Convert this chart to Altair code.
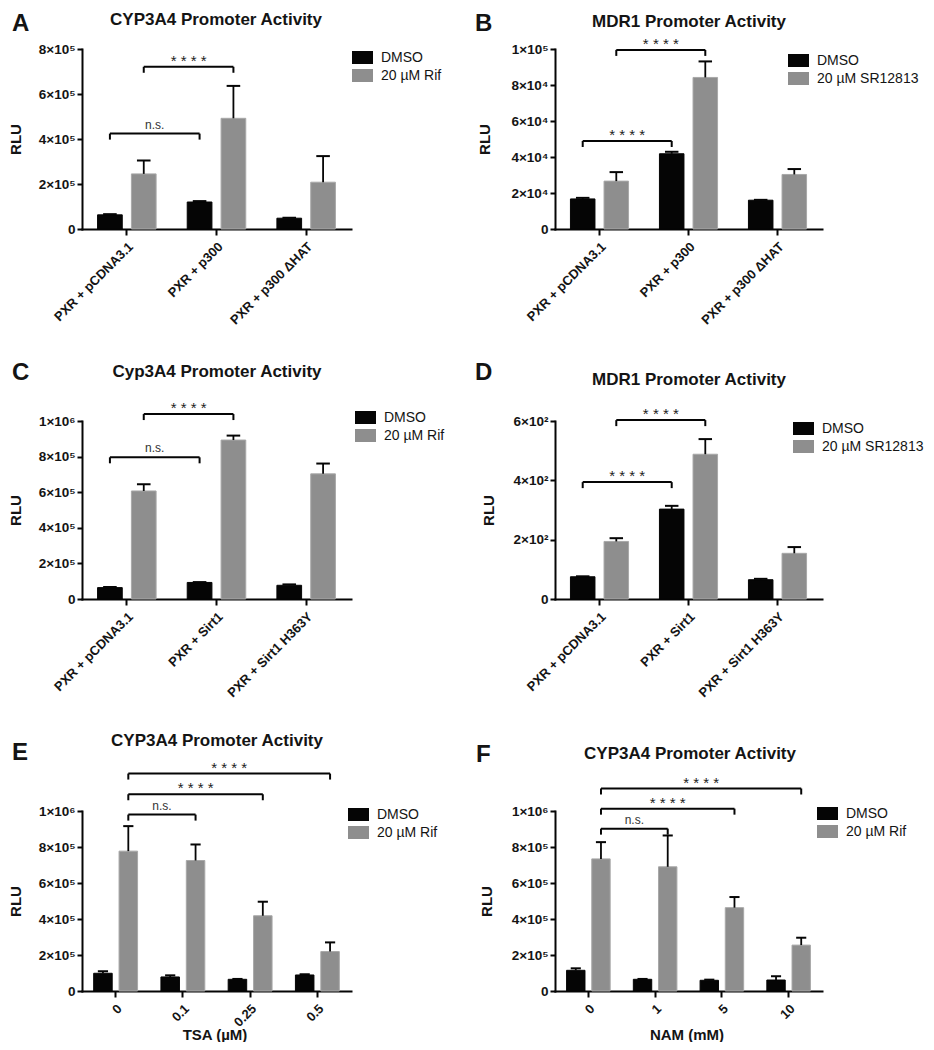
import altair as alt
import pandas as pd

FONT = "Liberation Sans"
INK = "#141414"
BLACK = "#050505"
GRAY = "#8e8e8e"
GRAY_EDGE = "#a8a8a8"

# ---------------- data ----------------
A_title = "CYP3A4 Promoter Activity"
A_cats = ["PXR + pCDNA3.1", "PXR + p300", "PXR + p300 ΔHAT"]
A_treat = "20 µM Rif"
A_dmso = [6.3e4, 1.2e5, 4.8e4]
A_dmso_sem = [3e3, 4e3, 2e3]
A_drug = [2.45e5, 4.92e5, 2.08e5]
A_drug_sem = [6.0e4, 1.44e5, 1.16e5]
A_yticks = [0, 2e5, 4e5, 6e5, 8e5]
A_brackets = [("PXR + pCDNA3.1", "PXR + p300", "DMSO", 4.24e5, "n.s."),
              ("PXR + pCDNA3.1", "PXR + p300", "20 µM Rif", 7.21e5, "* * * *")]

B_title = "MDR1 Promoter Activity"
B_cats = ["PXR + pCDNA3.1", "PXR + p300", "PXR + p300 ΔHAT"]
B_treat = "20 µM SR12813"
B_dmso = [1.67e4, 4.18e4, 1.60e4]
B_dmso_sem = [600, 1100, 200]
B_drug = [2.66e4, 8.42e4, 3.03e4]
B_drug_sem = [5000, 8900, 3000]
B_yticks = [0, 2e4, 4e4, 6e4, 8e4, 1e5]
B_brackets = [("PXR + pCDNA3.1", "PXR + p300", "DMSO", 4.89e4, "* * * *"),
              ("PXR + pCDNA3.1", "PXR + p300", "20 µM SR12813", 9.95e4, "* * * *")]

C_title = "Cyp3A4 Promoter Activity"
C_cats = ["PXR + pCDNA3.1", "PXR + Sirt1", "PXR + Sirt1 H363Y"]
C_treat = "20 µM Rif"
C_dmso = [6.4e4, 9.3e4, 7.7e4]
C_dmso_sem = [3500, 2000, 5000]
C_drug = [6.07e5, 8.93e5, 7.03e5]
C_drug_sem = [3.8e4, 2.5e4, 5.8e4]
C_yticks = [0, 2e5, 4e5, 6e5, 8e5, 1e6]
C_brackets = [("PXR + pCDNA3.1", "PXR + Sirt1", "DMSO", 7.96e5, "n.s."),
              ("PXR + pCDNA3.1", "PXR + Sirt1", "20 µM Rif", 1.039e6, "* * * *")]

D_title = "MDR1 Promoter Activity"
D_cats = ["PXR + pCDNA3.1", "PXR + Sirt1", "PXR + Sirt1 H363Y"]
D_treat = "20 µM SR12813"
D_dmso = [75, 303, 65]
D_dmso_sem = [1.5, 11, 3]
D_drug = [194, 488, 154]
D_drug_sem = [11, 51, 21]
D_yticks = [0, 200, 400, 600]
D_brackets = [("PXR + pCDNA3.1", "PXR + Sirt1", "DMSO", 394, "* * * *"),
              ("PXR + pCDNA3.1", "PXR + Sirt1", "20 µM SR12813", 603, "* * * *")]

E_title = "CYP3A4 Promoter Activity"
E_cats = ["0", "0.1", "0.25", "0.5"]
E_xtitle = "TSA (µM)"
E_treat = "20 µM Rif"
E_dmso = [9.85e4, 7.8e4, 6.5e4, 8.9e4]
E_dmso_sem = [1.15e4, 9e3, 2e3, 4e3]
E_drug = [7.77e5, 7.25e5, 4.18e5, 2.19e5]
E_drug_sem = [1.39e5, 8.9e4, 7.8e4, 5.1e4]
E_yticks = [0, 2e5, 4e5, 6e5, 8e5, 1e6]
E_brackets = [("0", "0.1", "20 µM Rif", 9.8e5, "n.s."),
              ("0", "0.25", "20 µM Rif", 1.093e6, "* * * *"),
              ("0", "0.5", "20 µM Rif", 1.208e6, "* * * *")]

F_title = "CYP3A4 Promoter Activity"
F_cats = ["0", "1", "5", "10"]
F_xtitle = "NAM (mM)"
F_treat = "20 µM Rif"
F_dmso = [1.15e5, 6.5e4, 5.95e4, 6.1e4]
F_dmso_sem = [1.1e4, 2e3, 3.5e3, 2.1e4]
F_drug = [7.34e5, 6.9e5, 4.63e5, 2.55e5]
F_drug_sem = [9.3e4, 1.74e5, 5.9e4, 4.1e4]
F_yticks = [0, 2e5, 4e5, 6e5, 8e5, 1e6]
F_brackets = [("0", "1", "20 µM Rif", 9.02e5, "n.s."),
              ("0", "5", "20 µM Rif", 1.013e6, "* * * *"),
              ("0", "10", "20 µM Rif", 1.125e6, "* * * *")]

# ---------------- layout (pixels, relative to each plot area's top-left) ----------------
# letter / title give the top edge of the text
LAYOUT = {
    "A": dict(w=269, h=180, top=0, letter=(-70, -37), title=(134, -37), rlu=-67, legend=(270, -2)),
    "B": dict(w=267, h=180, top=0, letter=(-80, -37), title=(134, -35), rlu=-71, legend=(233, 1)),
    "C": dict(w=269, h=178, top=0, letter=(-70, -60), title=(135, -57), rlu=-67, legend=(273, -14)),
    "D": dict(w=267, h=178, top=0, letter=(-80, -60), title=(134, -49), rlu=-67, legend=(238, -3)),
    "E": dict(w=269, h=200, top=20, letter=(-70, -70), title=(135, -78), rlu=-67, legend=(266, -7)),
    "F": dict(w=267, h=200, top=20, letter=(-79, -68), title=(135, -65), rlu=-69, legend=(262, -8)),
}

LABEL_EXPR = (
    "datum.value == 0 ? '0' : "
    "format(datum.value / pow(10, floor(log(datum.value) / LN10 + 1e-6)), '.0f') + '×10' + "
    "substring('⁰¹²³⁴⁵⁶⁷⁸⁹', floor(log(datum.value) / LN10 + 1e-6), floor(log(datum.value) / LN10 + 1e-6) + 1)"
)
SYMBOL = "M-1,-0.62H1V0.62H-1Z"
PI, PO = 0.27, 0.46


def panel(letter, title, cats, dmso, dmso_sem, drug, drug_sem, treat, yticks, brackets, xtitle, L):
    series = ["DMSO", treat]
    rows = []
    for c, m, s in zip(cats, dmso, dmso_sem):
        rows.append({"cat": c, "series": "DMSO", "v": m, "hi": m + s})
    for c, m, s in zip(cats, drug, drug_sem):
        rows.append({"cat": c, "series": treat, "v": m, "hi": m + s})
    df = pd.DataFrame(rows)

    W, H, top = L["w"], L["h"], L["top"]
    plot_h = H - top
    step = W / len(cats)
    sub = step / (2 - PI + 2 * PO)
    bw = sub * (1 - PI)

    x_axis = alt.Axis(
        title=xtitle if xtitle else None,
        labelAngle=-45, labelAlign="right", labelBaseline="top", labelPadding=5,
        labelFont=FONT, labelFontSize=13, labelFontWeight="bold", labelColor=INK,
        labelOverlap=False,
        tickSize=6, tickWidth=2, tickColor=BLACK, domainColor=BLACK, domainWidth=2,
        domainCap="square",
        titleFont=FONT, titleFontSize=15, titleFontWeight="bold", titleColor=INK,
        titleX=W / 2 - 2, titleY=43, titleBaseline="middle", titleAlign="center",
    )
    y_axis = alt.Axis(
        values=[float(v) for v in yticks],
        labelExpr=LABEL_EXPR, title="RLU",
        labelOverlap=False,
        titleFont=FONT, titleFontSize=15, titleFontWeight="bold", titleColor=INK,
        titleAngle=270, titleAlign="center", titleBaseline="middle",
        titleX=L["rlu"], titleY=top + plot_h / 2,
        labelFont=FONT, labelFontSize=13.5, labelFontWeight="bold", labelColor=INK,
        labelPadding=2, tickSize=5, tickWidth=2, tickColor=BLACK,
        domainColor=BLACK, domainWidth=2, domainCap="square", grid=False,
    )

    yscale = alt.Scale(domain=[0, yticks[-1]], range=[H, top], nice=False, zero=True)
    xs = alt.X("cat:N", sort=cats, scale=alt.Scale(paddingInner=0, paddingOuter=0), axis=x_axis)
    xp = alt.X("cat:N", sort=cats, axis=x_axis)
    xo = alt.XOffset("series:N", sort=series,
                     scale=alt.Scale(domain=series, paddingInner=PI, paddingOuter=PO))
    xo2 = alt.XOffset("series:N", sort=series)
    ys = alt.Y("v:Q", scale=yscale, axis=y_axis)
    yp = alt.Y("v:Q", axis=y_axis)
    yhi = alt.Y("hi:Q", axis=y_axis)

    color = alt.Color(
        "series:N", sort=series, scale=alt.Scale(domain=series, range=[BLACK, GRAY]),
        legend=alt.Legend(
            title=None, orient="none", legendX=L["legend"][0], legendY=top + L["legend"][1],
            symbolType=SYMBOL, symbolSize=441, symbolStrokeWidth=0, symbolOpacity=1,
            labelFont=FONT, labelFontSize=14, labelColor=INK, labelOffset=8,
            rowPadding=0, padding=0,
        ),
    )
    stroke = alt.Stroke("series:N", sort=series,
                        scale=alt.Scale(domain=series, range=[BLACK, GRAY_EDGE]), legend=None)

    bars = alt.Chart(df).mark_bar(strokeWidth=1).encode(
        x=xs, xOffset=xo, y=ys, color=color, stroke=stroke)
    err = alt.Chart(df).mark_rule(color=BLACK, strokeWidth=1.8).encode(
        x=xp, xOffset=xo2, y=yp, y2="hi:Q")
    cap = alt.Chart(df).mark_tick(color=BLACK, thickness=2, size=bw * 0.55,
                                  orient="horizontal", opacity=1).encode(
        x=xp, xOffset=xo2, y=yhi)

    layers = [bars, err, cap]
    for (c1, c2, s, yv, lab) in brackets:
        bdf = pd.DataFrame({"cat": [c1, c2], "series": [s, s], "v": [yv, yv]})
        line = alt.Chart(bdf).mark_line(color=BLACK, strokeWidth=2).encode(
            x=xp, xOffset=xo2, y=yp)
        ends = alt.Chart(bdf).mark_tick(color=BLACK, thickness=2, size=6, orient="vertical",
                                        yOffset=3, opacity=1).encode(x=xp, xOffset=xo2, y=yp)
        span = cats.index(c2) - cats.index(c1)
        is_ns = lab == "n.s."
        txt = alt.Chart(bdf.iloc[[0]]).mark_text(
            text=lab, dx=span * step / 2, dy=-5 if is_ns else -1,
            font=FONT, fontSize=12 if is_ns else 15, color="#222222" if not is_ns else "#333333",
            baseline="alphabetic", align="center",
        ).encode(x=xp, xOffset=xo2, y=yp)
        layers += [line, ends, txt]

    meta_letter = pd.DataFrame({"t": [letter]})
    meta_title = pd.DataFrame({"t": [title]})
    let_mark = alt.Chart(meta_letter).mark_text(
        font=FONT, fontSize=24, fontWeight="bold", align="left", baseline="top", color=INK
    ).encode(text="t:N", x=alt.value(L["letter"][0]), y=alt.value(top + L["letter"][1]))
    tit_mark = alt.Chart(meta_title).mark_text(
        font=FONT, fontSize=17, fontWeight="bold", align="center", baseline="top", color=INK
    ).encode(text="t:N", x=alt.value(L["title"][0]), y=alt.value(top + L["title"][1]))
    layers += [let_mark, tit_mark]

    return alt.layer(*layers).properties(width=W, height=H)


pA = panel("A", A_title, A_cats, A_dmso, A_dmso_sem, A_drug, A_drug_sem, A_treat, A_yticks,
           A_brackets, None, LAYOUT["A"])
pB = panel("B", B_title, B_cats, B_dmso, B_dmso_sem, B_drug, B_drug_sem, B_treat, B_yticks,
           B_brackets, None, LAYOUT["B"])
pC = panel("C", C_title, C_cats, C_dmso, C_dmso_sem, C_drug, C_drug_sem, C_treat, C_yticks,
           C_brackets, None, LAYOUT["C"])
pD = panel("D", D_title, D_cats, D_dmso, D_dmso_sem, D_drug, D_drug_sem, D_treat, D_yticks,
           D_brackets, None, LAYOUT["D"])
pE = panel("E", E_title, E_cats, E_dmso, E_dmso_sem, E_drug, E_drug_sem, E_treat, E_yticks,
           E_brackets, E_xtitle, LAYOUT["E"])
pF = panel("F", F_title, F_cats, F_dmso, F_dmso_sem, F_drug, F_drug_sem, F_treat, F_yticks,
           F_brackets, F_xtitle, LAYOUT["F"])

chart = (
    alt.concat(pA, pB, pC, pD, pE, pF, columns=2,
               spacing={"row": 192, "column": 204}, bounds="flush")
    .resolve_scale(color="independent", xOffset="independent", stroke="independent")
    .configure_view(stroke=None)
    .properties(padding={"left": 0, "top": 3, "right": 0, "bottom": 0}, background="white")
)

chart.save("out.html", embed_options={"renderer": "svg", "actions": False})
